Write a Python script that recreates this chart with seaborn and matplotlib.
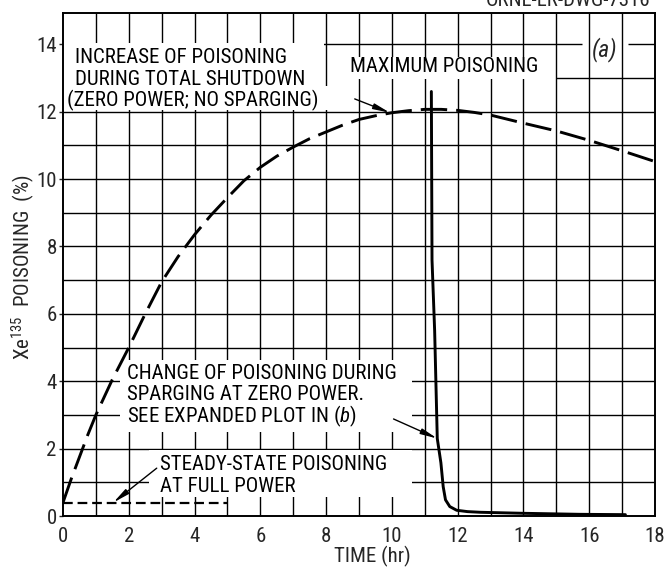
import matplotlib
matplotlib.use("Agg")
import matplotlib.pyplot as plt
from matplotlib import font_manager
from matplotlib.patches import Rectangle
import seaborn as sns

# Xe-135 poisoning build-up after total shutdown (zero power, no sparging)
shutdown_time = [0, 0.25, 0.5, 0.75, 1, 1.5, 2, 2.5, 3, 3.5, 4, 4.5, 5, 5.5, 6,
                 6.5, 7, 7.5, 8, 8.5, 9, 9.5, 10, 10.5, 11, 11.5, 12, 12.5, 13,
                 13.5, 14, 15, 16, 17, 18]
shutdown_poison = [0.4, 1.1, 1.75, 2.4, 3.0, 4.05, 5.0, 6.0, 6.95, 7.7, 8.35,
                   8.93, 9.45, 9.95, 10.35, 10.68, 10.95, 11.2, 11.4, 11.6,
                   11.77, 11.88, 11.97, 12.03, 12.07, 12.07, 12.04, 11.98, 11.9,
                   11.78, 11.66, 11.43, 11.15, 10.84, 10.52]

# Poisoning while sparging at zero power, starting from maximum poisoning
sparge_time = [11.2, 11.22, 11.3, 11.38, 11.49, 11.56, 11.63, 11.76, 11.97,
               12.3, 12.7, 14.0, 15.7, 17.1]
sparge_poison = [12.6, 7.6, 5.5, 2.3, 1.58, 0.87, 0.48, 0.28, 0.17, 0.13, 0.11,
                 0.08, 0.05, 0.04]

# Steady-state poisoning at full power
steady_time = [0, 5]
steady_poison = [0.4, 0.4]

x_ticks = [0, 2, 4, 6, 8, 10, 12, 14, 16, 18]
y_ticks = [0, 2, 4, 6, 8, 10, 12, 14]

x_label = "TIME (hr)"
y_label = "Xe$^{135}$  POISONING  (%)"
drawing_no = "ORNL-LR-DWG-7316"
panel_tag = "(a)"
shutdown_note = ["INCREASE OF POISONING", "DURING TOTAL SHUTDOWN",
                 "(ZERO POWER; NO SPARGING)"]
max_note = "MAXIMUM POISONING"
sparge_note = ["CHANGE OF POISONING DURING", "SPARGING AT ZERO POWER.",
               "SEE EXPANDED PLOT IN ($b$)"]
steady_note = ["STEADY-STATE POISONING", "AT FULL POWER"]

sns.set_theme(style="white")
names = {f.name for f in font_manager.fontManager.ttflist}
face = "DejaVu Sans"
for fam in ["Liberation Sans Narrow", "DejaVu Sans Condensed", "Roboto Condensed",
            "Liberation Sans"]:
    if fam in names:
        face = fam
        break
plt.rcParams["font.family"] = [face, "DejaVu Sans"]
plt.rcParams["mathtext.fontset"] = "custom"
plt.rcParams["mathtext.rm"] = face
plt.rcParams["mathtext.it"] = face + ":italic"
plt.rcParams["mathtext.bf"] = face + ":bold"
plt.rcParams["lines.scale_dashes"] = False

FS = 15
fig = plt.figure(figsize=(6.67, 5.71), dpi=100)
ax = fig.add_axes([63 / 667, 55 / 571, 592 / 667, 503 / 571])
ax.set_xlim(0, 18)
ax.set_ylim(0, 14.93)

# graph-paper grid, one line per unit
grid_kw = dict(color="black", lw=1.0, zorder=1)
for yv in range(1, 13):
    ax.hlines(yv, 0, 18, **grid_kw)
ax.hlines(13, 15.0, 18, **grid_kw)
ax.hlines(14, 7.9, 15.77, **grid_kw)
ax.hlines(14, 17.17, 18, **grid_kw)
for xv in range(1, 18):
    ax.vlines(xv, 0, 14.93, **grid_kw)

# blank areas of the grid behind the lettering
for (x0, y0, w, h) in [(0, 12.06, 7.95, 1.99), (7.95, 12.06, 0.9, 0.69),
                       (8.55, 12.98, 6.05, 0.64), (1.72, 2.5, 8.88, 2.14),
                       (2.6, 0.55, 8.0, 1.41)]:
    ax.add_patch(Rectangle((x0, y0), w, h, facecolor="white", edgecolor="none",
                           zorder=2))

# curves
sns.lineplot(x=shutdown_time, y=shutdown_poison, ax=ax, color="black", lw=2.1,
             estimator=None, sort=False, zorder=3)
ax.lines[-1].set_dashes([19, 6.5])
sns.lineplot(x=sparge_time, y=sparge_poison, ax=ax, color="black", lw=2.1,
             estimator=None, sort=False, zorder=3)
sns.lineplot(x=steady_time, y=steady_poison, ax=ax, color="black", lw=1.6,
             estimator=None, sort=False, zorder=3)
ax.lines[-1].set_dashes([7, 3.5])

# lettering
txt_kw = dict(fontsize=FS, color="black", va="center", ha="left", zorder=4)
for s, (xx, yy) in zip(shutdown_note, [(0.38, 13.61), (0.37, 12.96), (0.11, 12.33)]):
    ax.text(xx, yy, s, **txt_kw)
ax.text(8.72, 13.34, max_note, **txt_kw)
ax.text(16.47, 13.84, panel_tag, fontsize=17, style="italic", ha="center",
        va="center", zorder=4)
for s, yy in zip(sparge_note, [4.22, 3.6, 2.96]):
    ax.text(1.95, yy, s, **txt_kw)
for s, yy in zip(steady_note, [1.52, 0.88]):
    ax.text(2.95, yy, s, **txt_kw)

arrow_kw = dict(arrowstyle="-|>,head_length=0.7,head_width=0.12", lw=1.0,
                color="black", shrinkA=0, shrinkB=0, mutation_scale=14)
ax.annotate("", xy=(9.94, 11.97), xytext=(8.87, 12.38), arrowprops=arrow_kw,
            zorder=4)
ax.annotate("", xy=(11.38, 2.3), xytext=(10.05, 2.88), arrowprops=arrow_kw,
            zorder=4)
ax.annotate("", xy=(1.53, 0.4), xytext=(2.85, 1.42), arrowprops=arrow_kw,
            zorder=4)

# axes, ticks and labels
ax.set_xticks(x_ticks)
ax.set_yticks(y_ticks)
ax.tick_params(axis="x", length=0, pad=8, labelsize=FS)
ax.tick_params(axis="y", length=3, width=1.0, pad=1.5, labelsize=FS,
               direction="out", left=True)
for sp in ax.spines.values():
    sp.set_color("black")
    sp.set_linewidth(1.4)
    sp.set_zorder(5)
ax.set_xlabel(x_label, fontsize=FS)
ax.set_ylabel(y_label, fontsize=FS)
ax.xaxis.set_label_coords(0.522, -0.081)
ax.yaxis.set_label_coords(-0.068, 0.495)
ax.yaxis.label.set_va("center")
ax.xaxis.label.set_va("center")

fig.text(650 / 667, 1 - 6 / 571, drawing_no, fontsize=FS, ha="right",
         va="baseline")

fig.savefig("out.png", dpi=100, facecolor="white")
